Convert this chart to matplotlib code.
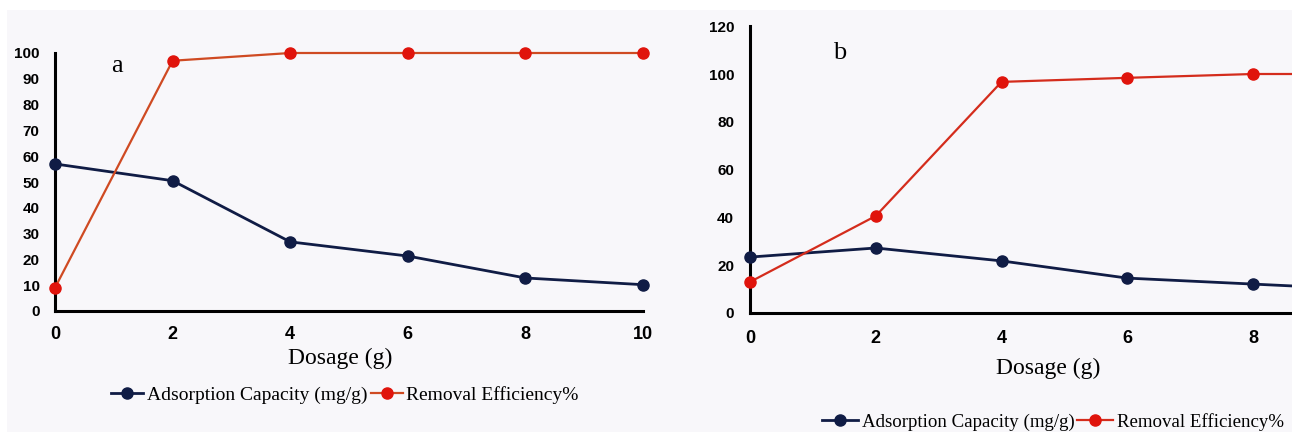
import matplotlib
matplotlib.use("Agg")
import matplotlib.pyplot as plt
from matplotlib.patches import Rectangle
from matplotlib.lines import Line2D

W, H = 1292, 432
dosage = [0, 2, 4, 6, 8, 10]
ads_a = [57, 50.5, 26.8, 21.3, 12.8, 10.2]
rem_a = [9, 97, 100, 100, 100, 100]
ads_b = [23.4, 27.2, 21.8, 14.6, 12.1, 9.6]
rem_b = [13, 40.6, 96.7, 98.4, 100, 100]
yticks_a = list(range(0, 101, 10))
yticks_b = list(range(0, 121, 20))
xticks_a = [0, 2, 4, 6, 8, 10]
xticks_b = [0, 2, 4, 6, 8]
label_ads = "Adsorption Capacity (mg/g)"
label_rem = "Removal Efficiency%"

NAVY = "#101c45"
RED_M = "#e0140c"
RED_La = "#cf4a22"
RED_Lb = "#d42c1c"
BG = "#f8f7fa"

fig = plt.figure(figsize=(W / 100, H / 100), dpi=100, facecolor="white")
fig.patches.append(Rectangle((7 / W, 0), 1, 1 - 10 / H, transform=fig.transFigure,
                             facecolor=BG, edgecolor="none", zorder=-10))

def px(x0, y0, x1, y1):
    return [x0 / W, 1 - y1 / H, (x1 - x0) / W, (y1 - y0) / H]

ax_a = fig.add_axes(px(55, 53, 643, 311))
ax_b = fig.add_axes(px(750, 26.2, 1378.75, 313))

xtick_kw = dict(family="Liberation Sans", fontweight="bold", fontsize=13)
ytick_kw = dict(family="Liberation Sans", fontweight="bold", fontsize=11)

def style(ax, ads, rem, ymax, yticks, xticks, red_line, xpad, ypad):
    ax.set_facecolor("none")
    ax.plot(dosage, ads, color=NAVY, lw=2.0,
            marker="o", ms=8, mfc=NAVY, mec=NAVY, clip_on=False, zorder=3)
    ax.plot(dosage, rem, color=red_line, lw=1.6,
            marker="o", ms=8, mfc=RED_M, mec=RED_M, clip_on=False, zorder=4)
    ax.set_xlim(0, 10)
    ax.set_ylim(0, ymax)
    ax.set_xticks(xticks, labels=[str(v) for v in xticks], **xtick_kw)
    ax.set_yticks(yticks, labels=[str(v) for v in yticks], **ytick_kw)
    for s in ["top", "right"]:
        ax.spines[s].set_visible(False)
    for s in ["left", "bottom"]:
        ax.spines[s].set_linewidth(2.2)
        ax.spines[s].set_color("black")
    ax.tick_params(axis="both", length=0)
    ax.tick_params(axis="y", pad=ypad)
    ax.tick_params(axis="x", pad=xpad)

style(ax_a, ads_a, rem_a, 100, yticks_a, xticks_a, RED_La, 11, 11)
style(ax_b, ads_b, rem_b, 120, yticks_b, xticks_b, RED_Lb, 12, 11.5)

serif = "Liberation Serif"
fig.text(117 / W, 1 - 66 / H, "a", family=serif, fontsize=19, ha="center", va="center")
fig.text(840 / W, 1 - 53 / H, "b", family=serif, fontsize=19, ha="center", va="center")
fig.text(340 / W, 1 - 358 / H, "Dosage (g)", family=serif, fontsize=17, ha="center", va="center")
fig.text(1048 / W, 1 - 368 / H, "Dosage (g)", family=serif, fontsize=17, ha="center", va="center")

def handles(red_line):
    return [Line2D([], [], color=NAVY, lw=2.0, marker="o", ms=8, mfc=NAVY, mec=NAVY),
            Line2D([], [], color=red_line, lw=1.6, marker="o", ms=8, mfc=RED_M, mec=RED_M)]

fig.legend(handles(RED_La), [label_ads, label_rem], loc="center",
           bbox_to_anchor=(345 / W, 1 - 395 / H), ncol=2, frameon=False,
           handlelength=1.65, handletextpad=0.2, columnspacing=0.15,
           prop=dict(family=serif, size=14), borderpad=0)
fig.legend(handles(RED_Lb), [label_ads, label_rem], loc="center",
           bbox_to_anchor=(1053 / W, 1 - 422 / H), ncol=2, frameon=False,
           handlelength=1.9, handletextpad=0.2, columnspacing=0.15,
           prop=dict(family=serif, size=13.6), borderpad=0)

fig.savefig("out.png", dpi=100, facecolor=fig.get_facecolor())
